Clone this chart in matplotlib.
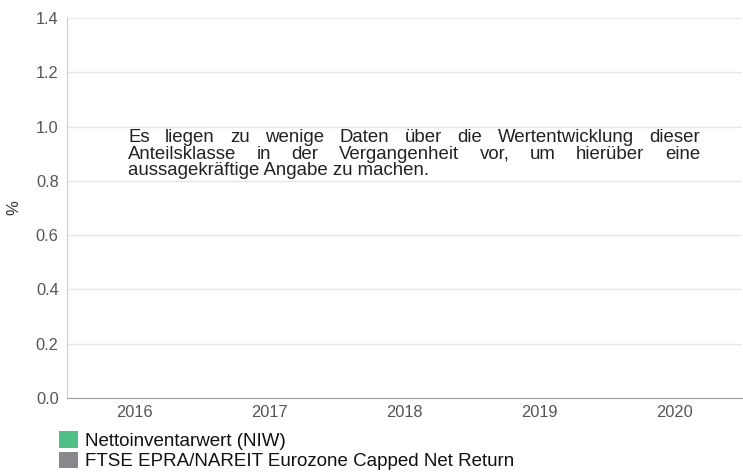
import numpy as np
import matplotlib as mpl
mpl.use('Agg')
import matplotlib.pyplot as plt

mpl.rcParams['font.family'] = ['Liberation Sans', 'DejaVu Sans']

# chart data (no performance values available)
years = ['2016', '2017', '2018', '2019', '2020']
niw = [None, None, None, None, None]
benchmark = [None, None, None, None, None]
series_names = ['Nettoinventarwert (NIW)', 'FTSE EPRA/NAREIT Eurozone Capped Net Return']
series_colors = ['#50be87', '#87888b']
yticks = [0.0, 0.2, 0.4, 0.6, 0.8, 1.0, 1.2, 1.4]
msg_lines = [
    "Es liegen zu wenige Daten über die Wertentwicklung dieser",
    "Anteilsklasse in der Vergangenheit vor, um hierüber eine",
    "aussagekräftige Angabe zu machen.",
]

W, H = 743, 474
fig = plt.figure(figsize=(W / 100, H / 100), dpi=100)
ax = fig.add_axes([67 / W, 1 - 398 / H, (742 - 67) / W, (398 - 18) / H])

x = np.arange(len(years))
vals1 = np.array([np.nan if v is None else v for v in niw], dtype=float)
vals2 = np.array([np.nan if v is None else v for v in benchmark], dtype=float)
b1 = ax.bar(x - 0.2, vals1, width=0.4, color=series_colors[0], label=series_names[0])
b2 = ax.bar(x + 0.2, vals2, width=0.4, color=series_colors[1], label=series_names[1])

ax.set_xlim(-0.5, len(years) - 0.5)
ax.set_ylim(0, 1.4)
ax.set_xticks(x)
ax.set_xticklabels(years)
ax.set_yticks(yticks)
ax.set_yticklabels([f'{v:.1f}' for v in yticks])
ax.tick_params(axis='both', length=0, labelsize=11.8, labelcolor='#555555')
ax.tick_params(axis='y', pad=6)
ax.tick_params(axis='x', pad=5)
ax.grid(axis='y', color='#e6e6e6', linewidth=1)
ax.set_axisbelow(True)
for s in ['top', 'right']:
    ax.spines[s].set_visible(False)
ax.spines['left'].set_color('#cccccc')
ax.spines['bottom'].set_color('#a0a0a0')
ax.set_ylabel('%', fontsize=12, color='#333333')
ax.yaxis.set_label_coords((21 - 67) / (742 - 67), 0.5)

# justified message text
renderer = fig.canvas.get_renderer()
fs = 13.4
x0, x1 = 128, 700
baselines = [142, 158.5, 175]
for i, line in enumerate(msg_lines):
    words = line.split(' ')
    yb = 1 - baselines[i] / H
    if i < len(msg_lines) - 1:
        txts = [fig.text(0, yb, w, fontsize=fs, color='#222222', va='baseline', ha='left') for w in words]
        widths = [t.get_window_extent(renderer).width for t in txts]
        gap = (x1 - x0 - sum(widths)) / (len(words) - 1)
        pos = x0
        for t, wd in zip(txts, widths):
            t.set_x(pos / W)
            pos += wd + gap
    else:
        fig.text(x0 / W, yb, line, fontsize=fs, color='#222222', va='baseline', ha='left')

leg = fig.legend(handles=[b1, b2], labels=series_names, loc='upper left',
                 bbox_to_anchor=(59 / W, 1 - 431 / H), frameon=False,
                 fontsize=13.5, handlelength=1.0, handleheight=1.0,
                 handletextpad=0.38, labelspacing=0.1, borderpad=0,
                 borderaxespad=0)
for t in leg.get_texts():
    t.set_color('#111111')

fig.savefig('out.png', dpi=100)
